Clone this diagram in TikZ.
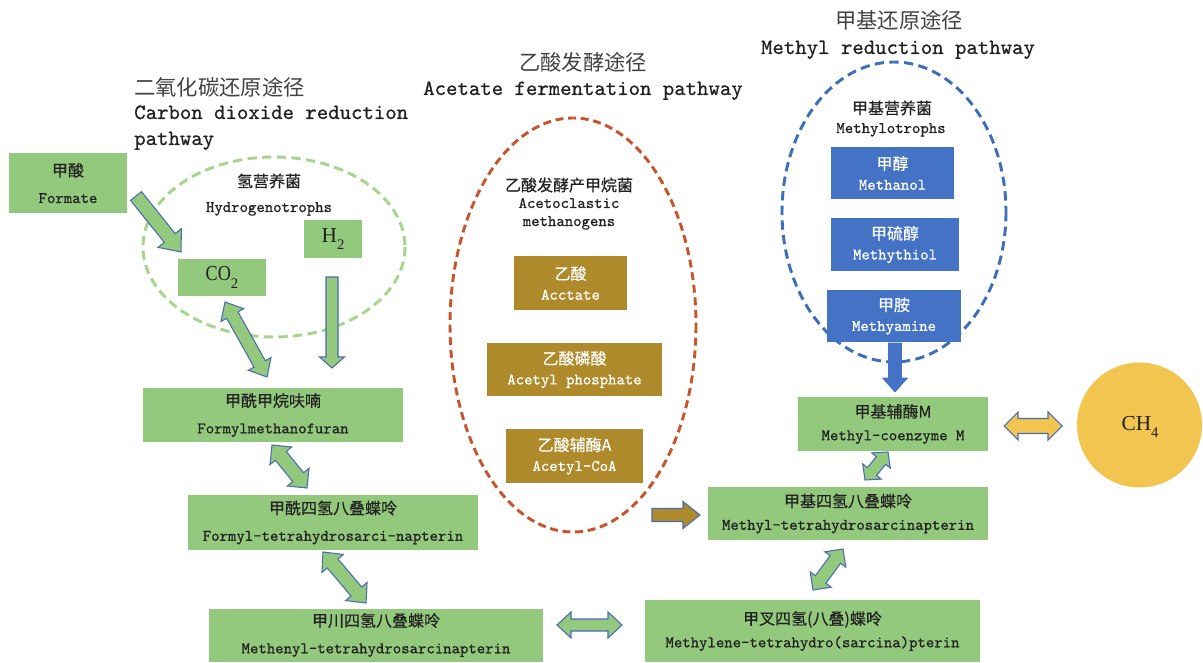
\documentclass[tikz,border=0pt]{standalone}
\usepackage{fontspec}
\usepackage{graphicx}
\newfontfamily\cjk{Noto Sans CJK SC}[FakeBold=0.4]
\newfontfamily\cjktitle{Noto Sans CJK SC}
\newfontfamily\serifel{Liberation Serif}
\newfontfamily\monob{lmmono10-regular}[Extension=.otf, FakeBold=0.8]
\usetikzlibrary{calc}
\definecolor{boxgreen}{HTML}{93C97D}
\definecolor{boxbrown}{HTML}{AF8A2A}
\definecolor{boxblue}{HTML}{4472C4}
\definecolor{ch4yellow}{HTML}{F2C550}
\definecolor{arrowblue}{HTML}{4A6CB5}
\definecolor{gdashc}{HTML}{A8D58D}
\definecolor{rdashc}{HTML}{C8552E}
\definecolor{udashc}{HTML}{3D6EB8}
\definecolor{textdark}{HTML}{222222}
\newcommand{\lowsub}[1]{\raisebox{-5.5pt}{\fontsize{11}{11}\selectfont #1}}
\newcommand{\myarrow}[6]{%
  \pgfmathsetmacro\ahl{#4*0.75}\pgfmathsetmacro\ahw{#5*0.75}\pgfmathsetmacro\ash{#6*0.75}%
  \coordinate (hb) at ($(#2)!\ahl pt!(#1)$);
  \draw[#3] ($(#1)!\ash pt!90:(#2)$) -- ($(hb)!\ash pt!-90:(#1)$) -- ($(hb)!\ahw pt!-90:(#1)$) -- (#2)
    -- ($(hb)!\ahw pt!90:(#1)$) -- ($(hb)!\ash pt!90:(#1)$) -- ($(#1)!\ash pt!-90:(#2)$) -- cycle;}
\newcommand{\mydarrow}[6]{%
  \pgfmathsetmacro\ahl{#4*0.75}\pgfmathsetmacro\ahw{#5*0.75}\pgfmathsetmacro\ash{#6*0.75}%
  \coordinate (ha) at ($(#1)!\ahl pt!(#2)$);
  \coordinate (hb) at ($(#2)!\ahl pt!(#1)$);
  \draw[#3] (#1) -- ($(ha)!\ahw pt!90:(#2)$) -- ($(ha)!\ash pt!90:(#2)$) -- ($(hb)!\ash pt!-90:(#1)$)
    -- ($(hb)!\ahw pt!-90:(#1)$) -- (#2) -- ($(hb)!\ahw pt!90:(#1)$) -- ($(hb)!\ash pt!90:(#1)$)
    -- ($(ha)!\ash pt!-90:(#2)$) -- ($(ha)!\ahw pt!-90:(#2)$) -- cycle;}
\tikzset{
  sz/.style 2 args={minimum width=#1*0.75pt, minimum height=#2*0.75pt},
  box/.style={draw=none, inner sep=0pt, align=center},
  gbox/.style={box, fill=boxgreen, text=textdark, font=\fontsize{12}{20}\selectfont\monob},
  gboxs/.style={box, fill=boxgreen, text=textdark, font=\fontsize{12}{17}\selectfont\monob},
  bbox/.style={box, fill=boxbrown, text=white, font=\fontsize{12}{15}\selectfont\monob},
  ubox/.style={box, fill=boxblue, text=white, font=\fontsize{12}{15}\selectfont\monob},
  titlecn/.style={inner sep=0pt, text=textdark!85, font=\fontsize{16}{20}\selectfont\cjktitle},
  titleen/.style={inner sep=0pt, text=textdark, font=\fontsize{16.3}{20}\selectfont\monob},
  labcn/.style={inner sep=0pt, text=textdark, font=\fontsize{12}{15}\selectfont\cjk},
  laben/.style={inner sep=0pt, text=textdark, font=\fontsize{12}{15}\selectfont\monob},
  gdash/.style={draw=gdashc, line width=2.2pt, dash pattern=on 7pt off 4pt},
  rdash/.style={draw=rdashc, line width=2.2pt, dash pattern=on 6pt off 3.5pt},
  udash/.style={draw=udashc, line width=2.2pt, dash pattern=on 7pt off 4pt},
  garrow/.style={fill=boxgreen, draw=arrowblue, line width=0.8pt, line join=miter},
  barrow/.style={fill=boxbrown, draw=arrowblue, line width=0.8pt, line join=miter},
  yarrow/.style={fill=ch4yellow, draw=arrowblue, line width=0.8pt, line join=miter},
  uarrow/.style={fill=boxblue, draw=boxblue, line width=0.5pt, line join=miter},
  chem/.style={inner sep=0pt, text=textdark, font=\fontsize{16}{18}\selectfont\serifel},
}
\begin{document}
\begin{tikzpicture}[x=0.75pt,y=-0.75pt]
\useasboundingbox (0,0) rectangle (1203,663);
\fill[white] (0,0) rectangle (1203,663);

% dashed ellipses
\draw[gdash] (274,247) ellipse [x radius=131, y radius=90];
\draw[rdash] (573,325) ellipse [x radius=123, y radius=207];
\draw[udash] (894,212) ellipse [x radius=112, y radius=150];

% titles
\node[titlecn, anchor=west] (t1cn) at (134,87) {二氧化碳还原途径};
\node[titleen, anchor=base west] (t1en) at (134,119) {Carbon dioxide reduction};
\node[titleen, anchor=base west] (t1en2) at (134,145) {pathway};
\node[titlecn] (t2cn) at (583,62) {乙酸发酵途径};
\node[titleen, anchor=base] (t2en) at (583,95) {Acetate fermentation pathway};
\node[titlecn] (t3cn) at (899,20) {甲基还原途径};
\node[titleen, anchor=base] (t3en) at (898,54) {Methyl reduction pathway};

% group labels
\node[labcn] (hydcn) at (269,181) {氢营养菌};
\node[laben, anchor=base] (hyden) at (269,212) {Hydrogenotrophs};
\node[labcn] (acecn) at (569,185) {乙酸发酵产甲烷菌};
\node[laben, anchor=base] (aceen) at (569,208) {Acetoclastic};
\node[laben, anchor=base] (aceen2) at (569,226) {methanogens};
\node[labcn] (metcn) at (892,108) {甲基营养菌};
\node[laben, anchor=base] (meten) at (891,133) {Methylotrophs};

% left pathway boxes
\node[gbox, sz={118}{60}] (formate) at (68,183) {{\cjk 甲酸}\\Formate};
\node[box, fill=boxgreen, sz={58}{38}, chem] (h2) at (333,239) {H\lowsub{2}};
\node[box, fill=boxgreen, sz={88}{37}, chem] (co2) at (222,277.5) {\scalebox{0.85}[1]{CO}\lowsub{2}};
\node[gbox, sz={260}{54}] (fmf) at (273,415) {{\cjk 甲酰甲烷呋喃}\\Formylmethanofuran};
\node[gbox, sz={290}{55}] (fth) at (333,522.5) {{\cjk 甲酰四氢八叠蝶呤}\\Formyl-tetrahydrosarci-napterin};
\node[gbox, sz={334}{53}] (menyl) at (376,635) {{\cjk 甲川四氢八叠蝶呤}\\Methenyl-tetrahydrosarcinapterin};

% acetate boxes
\node[bbox, sz={113}{54}] (acetate) at (570.5,283) {{\cjk 乙酸}\\Acctate};
\node[bbox, sz={175}{53}] (acp) at (574.5,369.5) {{\cjk 乙酸磷酸}\\Acetyl phosphate};
\node[bbox, sz={137}{54}] (acoa) at (574.5,456) {{\cjk 乙酸辅酶A}\\Acetyl-CoA};

% methyl boxes
\node[ubox, sz={123}{52}] (methanol) at (892.5,173) {{\cjk 甲醇}\\Methanol};
\node[ubox, sz={128}{53}] (methythiol) at (895,244.5) {{\cjk 甲硫醇}\\Methythiol};
\node[ubox, sz={134}{52}] (methyamine) at (894,316) {{\cjk 甲胺}\\Methyamine};

% right pathway boxes
\node[gboxs, sz={190}{54}] (mcom) at (893,424) {{\cjk 甲基辅酶M}\\Methyl-coenzyme M};
\node[gboxs, sz={280}{53}] (mh4) at (848,513.5) {{\cjk 甲基四氢八叠蝶呤}\\Methyl-tetrahydrosarcinapterin};
\node[gboxs, sz={335}{62}] (mlene) at (812.5,631) {{\cjk 甲叉四氢(八叠)蝶呤}\\Methylene-tetrahydro(sarcina)pterin};

% methane
\node[circle, fill=ch4yellow, inner sep=0pt, minimum size=125*0.75pt] (ch4) at (1139.5,425) {};
\node[chem] (ch4t) at (1140,427) {CH\lowsub{4}};

% arrow end points
\coordinate (a1s) at (136,196); \coordinate (a1e) at (181,252);
\coordinate (a2s) at (332,277); \coordinate (a2e) at (332,368);
\coordinate (a3s) at (225,302); \coordinate (a3e) at (267,377);
\coordinate (a4s) at (272,445); \coordinate (a4e) at (307,488);
\coordinate (a5s) at (323,552); \coordinate (a5e) at (366,603);
\coordinate (a6s) at (557,625); \coordinate (a6e) at (622,625);
\coordinate (a7s) at (813,590); \coordinate (a7e) at (843,549);
\coordinate (a8s) at (865,480); \coordinate (a8e) at (888,452);
\coordinate (a9s) at (652,515); \coordinate (a9e) at (700,515);
\coordinate (a10s) at (895,343); \coordinate (a10e) at (895,392);
\coordinate (a11s) at (1004,426); \coordinate (a11e) at (1062,426);

% block arrows
\myarrow{a1s}{a1e}{garrow}{18}{15}{7}
\myarrow{a2s}{a2e}{garrow}{11}{12.5}{6}
\mydarrow{a3s}{a3e}{garrow}{15}{13}{6.5}
\mydarrow{a4s}{a4e}{garrow}{14}{14}{7}
\mydarrow{a5s}{a5e}{garrow}{15}{14}{7}
\mydarrow{a6s}{a6e}{garrow}{14}{13}{6}
\mydarrow{a7s}{a7e}{garrow}{13}{13}{6.5}
\mydarrow{a8s}{a8e}{garrow}{11}{12}{6}
\myarrow{a9s}{a9e}{barrow}{17}{13.5}{6.5}
\myarrow{a10s}{a10e}{uarrow}{14}{12.5}{6.5}
\mydarrow{a11s}{a11e}{yarrow}{14}{14}{7.5}
\end{tikzpicture}
\end{document}
